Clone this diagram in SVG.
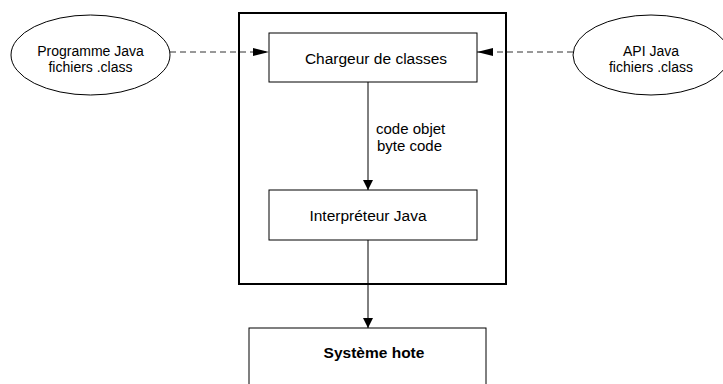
<svg xmlns="http://www.w3.org/2000/svg" width="723" height="384" viewBox="0 0 723 384">
<style>
.n{fill:#fff;stroke:#000;stroke-width:1}
.t{font-family:"Liberation Sans",Arial,sans-serif;fill:#000;text-anchor:middle}
.e{font-size:14px}
.b{font-size:15.5px}
.c{stroke:#000;stroke-width:1;fill:none}
.d{stroke:#333;stroke-dasharray:6,4}
</style>
<defs>
<marker id="ah" viewBox="0 0 10 10" refX="10" refY="5" markerWidth="10" markerHeight="10" markerUnits="userSpaceOnUse" orient="auto">
<path d="M0,0 L10,5 L0,10 z" fill="#000"/>
</marker>
<marker id="ahw" viewBox="0 0 16 10" refX="16" refY="5" markerWidth="16" markerHeight="10" markerUnits="userSpaceOnUse" orient="auto">
<path d="M0,1 L16,5 L0,9 z" fill="#000"/>
</marker>
</defs>
<rect width="723" height="384" fill="#fff"/>
<g id="jvm"><rect x="239" y="13" width="267" height="271" fill="none" stroke="#000" stroke-width="2"/></g>
<g id="connectors">
<line class="c d" x1="170" y1="52" x2="269" y2="52" marker-end="url(#ahw)"/>
<line class="c d" x1="573" y1="52" x2="477" y2="52" marker-end="url(#ahw)"/>
<line class="c" x1="368" y1="82" x2="368" y2="190" marker-end="url(#ah)"/>
<line class="c" x1="368" y1="240" x2="368" y2="328" marker-end="url(#ah)"/>
<text class="t" x="376" y="134" font-size="15" style="text-anchor:start">code objet</text>
<text class="t" x="377" y="151" font-size="15" style="text-anchor:start">byte code</text>
</g>
<g id="programme">
<ellipse class="n" cx="90.5" cy="55" rx="79.5" ry="40"/>
<text class="t e" x="90.5" y="56">Programme Java</text>
<text class="t e" x="90.5" y="71.5">fichiers .class</text>
</g>
<g id="api">
<ellipse class="n" cx="651" cy="55" rx="78" ry="40"/>
<text class="t e" x="651" y="56">API Java</text>
<text class="t e" x="651" y="71.5">fichiers .class</text>
</g>
<g id="chargeur">
<rect class="n" x="269" y="33" width="208" height="49"/>
<text class="t b" x="376" y="64">Chargeur de classes</text>
</g>
<g id="interpreteur">
<rect class="n" x="269" y="190" width="208" height="50"/>
<text class="t b" x="368" y="221">Interpréteur Java</text>
</g>
<g id="systeme">
<rect class="n" x="249" y="328" width="237" height="62"/>
<text class="t" x="374" y="358" font-size="15.5" font-weight="bold">Système hote</text>
</g>
</svg>
